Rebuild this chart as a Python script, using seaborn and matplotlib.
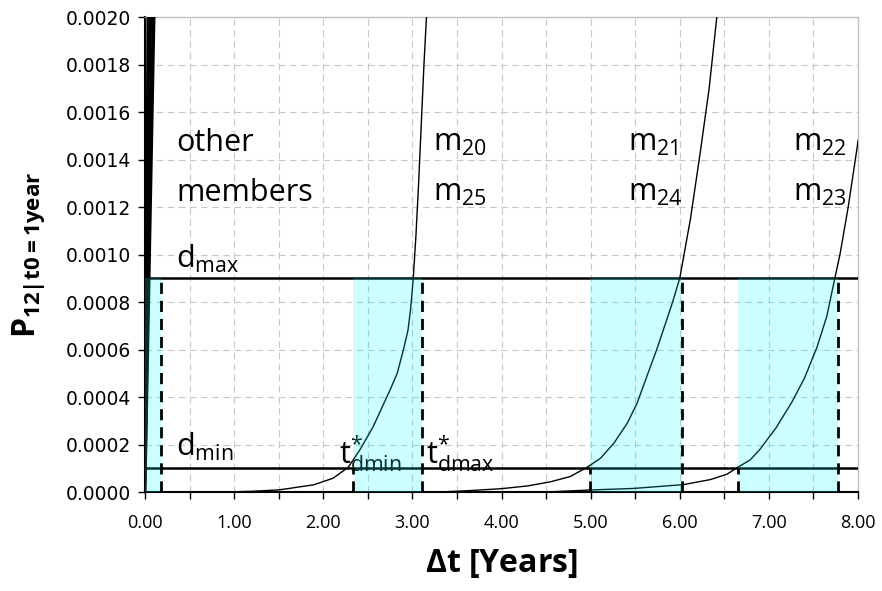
import matplotlib
matplotlib.use("Agg")
import matplotlib.pyplot as plt
import seaborn as sns
import pandas as pd
from matplotlib.ticker import MultipleLocator, FixedLocator, FixedFormatter

# Transition probability curves per member group
t_m20 = [0.9, 1.2, 1.5, 1.6, 1.74, 1.89, 2.11, 2.28, 2.41, 2.56, 2.75, 2.83, 2.90, 2.95, 2.98,
         3.01, 3.04, 3.07, 3.10, 3.13, 3.165]
p_m20 = [0.0, 0.000003, 0.000009, 0.000014, 0.000022, 0.00003, 0.000058, 0.000104, 0.000177,
         0.000275, 0.00043, 0.0005, 0.0006, 0.00068, 0.00077, 0.0009, 0.00108, 0.0013, 0.00155,
         0.0018, 0.00205]

t_m21 = [3.3, 3.6, 4.0, 4.3, 4.55, 4.77, 4.96, 5.11, 5.26, 5.41, 5.52, 5.63, 5.74, 5.84, 5.92,
         6.00, 6.12, 6.23, 6.33, 6.43]
p_m21 = [0.0, 0.000005, 0.000014, 0.000026, 0.000043, 0.000065, 0.000104, 0.000142, 0.000205,
         0.000289, 0.000373, 0.000486, 0.000598, 0.00071, 0.0008, 0.0009, 0.00115, 0.00143,
         0.0017, 0.00205]

t_m22 = [4.5, 4.99, 5.48, 6.04, 6.34, 6.53, 6.65, 6.79, 6.90, 7.08, 7.26, 7.40, 7.54, 7.65,
         7.74, 7.80, 7.89, 7.99, 8.0]
p_m22 = [0.0, 0.0000084, 0.000015, 0.000031, 0.000052, 0.000075, 0.000104, 0.000135, 0.00018,
         0.00027, 0.00038, 0.00048, 0.00061, 0.00074, 0.0009, 0.001005, 0.0012, 0.00145, 0.00148]

# Other members: very steep rise right after t = 0
t_other_top = [0.03, 0.05, 0.07, 0.09, 0.11]
p_other = [0.0, 0.0001, 0.0009, 0.0021]
t_other_frac = [0.0, 0.08, 0.45, 1.0]

# Thresholds
d_min = 0.0001
d_max = 0.0009

# Shaded intervals between t*_dmin and t*_dmax
t_star_dmin = [0.0, 2.33, 4.99, 6.65]
t_star_dmax = [0.18, 3.105, 6.03, 7.77]

x_ticks = [0, 1, 2, 3, 4, 5, 6, 7, 8]
y_ticks = [0.0, 0.0002, 0.0004, 0.0006, 0.0008, 0.0010, 0.0012, 0.0014, 0.0016, 0.0018, 0.0020]

rows = []
for name, ts, ps in [("m20", t_m20, p_m20), ("m21", t_m21, p_m21), ("m22", t_m22, p_m22)]:
    for t, p in zip(ts, ps):
        rows.append({"member": name, "t": t, "p": p})
for i, top in enumerate(t_other_top):
    for f, p in zip(t_other_frac, p_other):
        rows.append({"member": f"o{i}", "t": top * f, "p": p})
df = pd.DataFrame(rows)

sns.set_theme(style="white")
plt.rcParams["font.family"] = ["Open Sans", "DejaVu Sans"]
plt.rcParams["mathtext.fontset"] = "custom"
plt.rcParams["mathtext.rm"] = "Open Sans"
plt.rcParams["mathtext.bf"] = "Open Sans:bold"
for key in ["text.color", "axes.labelcolor", "xtick.color", "ytick.color"]:
    plt.rcParams[key] = "black"

fig = plt.figure(figsize=(8.82, 5.91), dpi=100)
ax = fig.add_axes([0.1644, 0.1675, 0.9728 - 0.1644, 0.9712 - 0.1675])

main = df[~df["member"].str.startswith("o")]
other = df[df["member"].str.startswith("o")]
sns.lineplot(data=main, x="t", y="p", units="member", estimator=None, sort=False,
             color="black", lw=1.0, ax=ax, zorder=3)
sns.lineplot(data=other, x="t", y="p", units="member", estimator=None, sort=False,
             color="black", lw=1.6, ax=ax, zorder=3)

ax.axhline(d_max, color="black", lw=1.8, zorder=3)
ax.axhline(d_min, color="black", lw=1.8, zorder=3)

for a, b in zip(t_star_dmin, t_star_dmax):
    ax.axvspan(a, b, ymin=0, ymax=d_max / 0.002, color="cyan", alpha=0.2, lw=0, zorder=4)
    ax.plot([b, b], [0, d_max], color="black", lw=2.0, ls=(0, (4, 2.5)), zorder=5)
    if a > 0:
        ax.plot([a, a], [0, d_min], color="black", lw=2.0, ls=(0, (4, 2.5)), zorder=5)

ax.set_xlim(0, 8)
ax.set_ylim(0, 0.002)

ax.xaxis.set_major_locator(FixedLocator(x_ticks))
ax.xaxis.set_major_formatter(FixedFormatter([f"{v:.2f}" for v in x_ticks]))
ax.xaxis.set_minor_locator(MultipleLocator(0.5))
ax.yaxis.set_major_locator(FixedLocator(y_ticks))
ax.yaxis.set_major_formatter(FixedFormatter([f"{v:.4f}" for v in y_ticks]))
ax.tick_params(axis="both", which="both", direction="out", length=5, width=1,
               color="black", bottom=True, left=True)
ax.tick_params(axis="x", pad=11, labelsize=13)
ax.tick_params(axis="y", pad=5, labelsize=13.5, labelfontfamily="DejaVu Sans")

ax.grid(True, which="both", axis="x", color="#c8c8c8", ls=(0, (6, 4)), lw=0.8)
ax.grid(True, which="major", axis="y", color="#c8c8c8", ls=(0, (6, 4)), lw=0.8)
ax.set_axisbelow(True)

for s in ["left", "bottom"]:
    ax.spines[s].set_color("black")
    ax.spines[s].set_linewidth(1.5)
for s in ["top", "right"]:
    ax.spines[s].set_color("#c0c0c0")
    ax.spines[s].set_linewidth(1.0)

ax.set_xlabel(r"$\mathbf{\Delta}$t [Years]", fontsize=23, fontweight="bold")
ax.set_ylabel(r"P$_{\mathbf{12{|}t0{=}1year}}$", fontsize=23, fontweight="bold")
ax.xaxis.set_label_coords(0.5, -0.115)
ax.yaxis.set_label_coords(-0.137, 0.5)

fs = 22
ax.text(0.35, 0.00147, "other", fontsize=fs, va="center")
ax.text(0.35, 0.00126, "members", fontsize=fs, va="center")
ax.text(0.35, 0.00098, r"d$_{\mathregular{max}}$", fontsize=fs, va="center")
ax.text(0.35, 0.00019, r"d$_{\mathregular{min}}$", fontsize=fs, va="center")
for x0, top, bot in [(3.23, "20", "25"), (5.42, "21", "24"), (7.27, "22", "23")]:
    ax.text(x0, 0.00147, rf"m$_{{\mathregular{{{top}}}}}$", fontsize=fs, va="center")
    ax.text(x0, 0.00126, rf"m$_{{\mathregular{{{bot}}}}}$", fontsize=fs, va="center")
ax.text(2.18, 0.00016, r"t$^{*}_{\mathregular{dmin}}$", fontsize=fs, va="center")
ax.text(3.15, 0.00016, r"t$^{*}_{\mathregular{dmax}}$", fontsize=fs, va="center")

fig.savefig("out.png", dpi=100)
